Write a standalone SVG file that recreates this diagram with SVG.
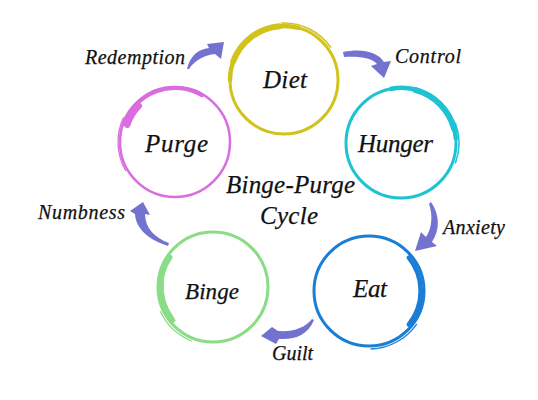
<svg xmlns="http://www.w3.org/2000/svg" width="538" height="400" viewBox="0 0 538 400">
<style>
.t{font-family:"Liberation Serif","Times New Roman",serif;font-style:italic;fill:#111;stroke:#111;stroke-width:0.25}
.n{font-size:25px}
.l{font-size:20px}
.ring{fill:none;stroke-linecap:round}
.arr{fill:#7373cf}
</style>
<rect width="538" height="400" fill="#ffffff"/>
<g id="connectors">
<path class="arr" d="M187,69 C190,56 198,49 209,48 L207,44 L224,42 L221,59 L215,54 C205,55 195,60 189,69 Z"/>
<path class="arr" d="M343,52 C362,48 378,52 384,62 L391,61 L384,78 L371,66 L377,64 C372,58 360,56 344,57 Z"/>
<path class="arr" d="M431,202 C440,215 440,230 432,242 L437,246 L415,251 L421,232 L426,237 C432,228 433,215 429,204 Z"/>
<path class="arr" d="M314,320 C308,335 295,340 279,339 L276,344 L261,336 L272,327 L278,331 C293,332 305,328 312,319 Z"/>
<path class="arr" d="M168,246 C150,240 136,230 135,214 L130,211 L143,202 L150,215 L145,214 C145,228 155,238 169,243 Z"/>
<text class="t l" x="85" y="64" textLength="100" lengthAdjust="spacing">Redemption</text>
<text class="t l" x="395" y="63" textLength="66" lengthAdjust="spacing">Control</text>
<text class="t l" x="443" y="234" textLength="62" lengthAdjust="spacing">Anxiety</text>
<text class="t l" x="38" y="219" textLength="87" lengthAdjust="spacing">Numbness</text>
<text class="t l" x="272" y="360" textLength="41" lengthAdjust="spacing">Guilt</text>
</g>
<g id="diet">
<circle class="ring" cx="284" cy="80" r="54" stroke="#d1c21c" stroke-width="3"/>
<path class="ring" stroke="#d1c21c" stroke-width="4.5" d="M230,80 A54,54 0 0 1 298,27.8"/>
<path class="ring" stroke="#d1c21c" stroke-width="6" d="M233.2,61.5 A54,54 0 0 1 279.3,26.2"/>
<path class="ring" stroke="#d1c21c" stroke-width="1.5" d="M282,23 A57,57 0 0 1 330.7,47.3"/>
<text class="t n" x="263" y="88" textLength="44" lengthAdjust="spacing">Diet</text>
</g>
<g id="hunger">
<circle class="ring" cx="401" cy="143" r="55" stroke="#1fc2d2" stroke-width="3"/>
<path class="ring" stroke="#1fc2d2" stroke-width="4.5" d="M391.4,88.8 A55,55 0 0 1 455.8,138.2"/>
<path class="ring" stroke="#1fc2d2" stroke-width="6" d="M415.2,89.9 A55,55 0 0 1 454.1,128.8"/>
<path class="ring" stroke="#1fc2d2" stroke-width="1.5" d="M455.5,123.2 A58,58 0 0 1 455.5,162.8"/>
<text class="t n" x="358" y="152" textLength="75" lengthAdjust="spacing">Hunger</text>
</g>
<g id="purge">
<circle class="ring" cx="175" cy="142" r="55" stroke="#d96ddf" stroke-width="2.5"/>
<path class="ring" stroke="#d96ddf" stroke-width="4" d="M124,124 A54,54 0 0 1 202,95.2"/>
<path class="ring" stroke="#d96ddf" stroke-width="6" d="M127.3,125 A51,51 0 0 1 139,106"/>
<path class="ring" stroke="#d96ddf" stroke-width="1.3" d="M125.6,170.5 A57,57 0 0 1 123.4,117.9"/>
<text class="t n" x="145" y="152" textLength="63" lengthAdjust="spacing">Purge</text>
</g>
<g id="binge">
<circle class="ring" cx="213" cy="287" r="55" stroke="#8adc86" stroke-width="3"/>
<path class="ring" stroke="#8adc86" stroke-width="4.5" d="M173.2,320.4 A52,52 0 0 1 170.4,257.2"/>
<path class="ring" stroke="#8adc86" stroke-width="5.5" d="M170.4,316.8 A52,52 0 0 1 161.2,282.5"/>
<path class="ring" stroke="#8adc86" stroke-width="1.3" d="M191.3,340.8 A58,58 0 0 1 160.4,311.5"/>
<text class="t n" x="185" y="299" style="font-size:23px" textLength="54" lengthAdjust="spacing">Binge</text>
</g>
<g id="eat">
<circle class="ring" cx="369" cy="291" r="55" stroke="#1b7ed6" stroke-width="3"/>
<path class="ring" stroke="#1b7ed6" stroke-width="4.5" d="M408.8,257.6 A53,53 0 0 1 408.8,324.4"/>
<path class="ring" stroke="#1b7ed6" stroke-width="6" d="M422,291 A53,53 0 0 1 412.4,321.4"/>
<path class="ring" stroke="#1b7ed6" stroke-width="1.3" d="M416.5,324.3 A58,58 0 0 1 371,349"/>
<text class="t n" x="353" y="297" textLength="34" lengthAdjust="spacing">Eat</text>
</g>
<g id="center">
<text class="t n" x="226" y="193" textLength="129" lengthAdjust="spacing">Binge-Purge</text>
<text class="t n" x="260" y="224" textLength="58" lengthAdjust="spacing">Cycle</text>
</g>
</svg>
